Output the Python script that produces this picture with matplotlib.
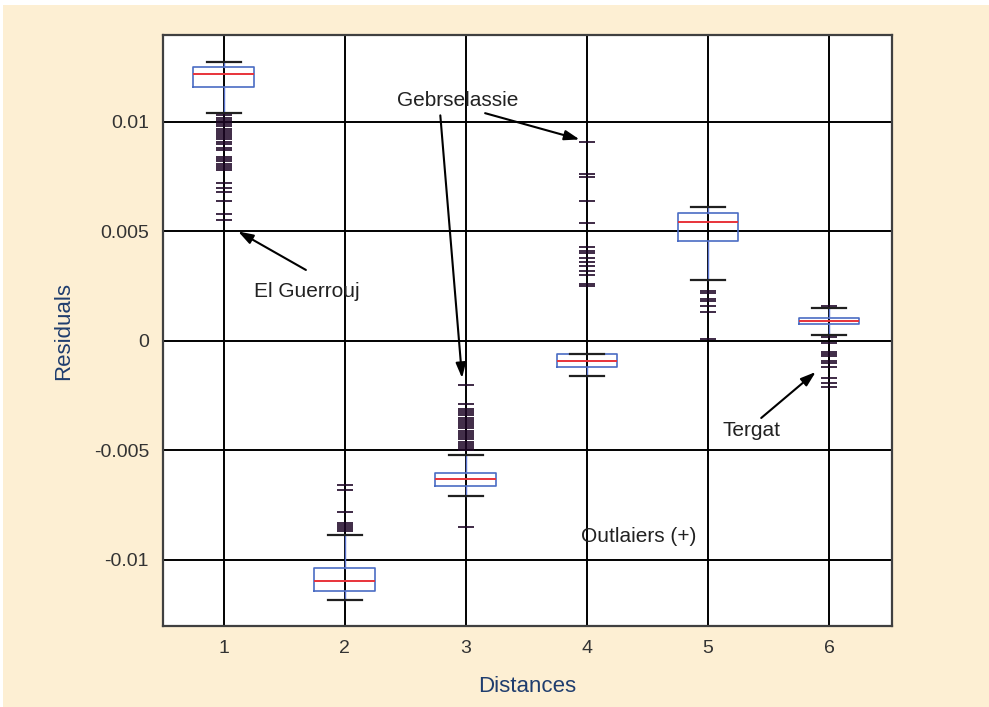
import matplotlib
matplotlib.use("Agg")
import matplotlib.pyplot as plt
from matplotlib.patches import Rectangle

# box statistics (one entry per distance)
distances = [1, 2, 3, 4, 5, 6]
medians = [0.0122, -0.01096, -0.0063, -0.00091, 0.00543, 0.00091]
q1 = [0.0116, -0.01142, -0.00662, -0.00119, 0.00457, 0.00078]
q3 = [0.01251, -0.01037, -0.00603, -0.00059, 0.00584, 0.00105]
whis_lo = [0.0104, -0.01183, -0.00708, -0.0016, 0.00279, 0.00027]
whis_hi = [0.01274, -0.00886, -0.0052, -0.00059, 0.00612, 0.0015]

out1 = [0.0103, 0.0102, 0.0101, 0.0100, 0.0099, 0.0098, 0.0097, 0.0096, 0.0095,
        0.0094, 0.0093, 0.0092, 0.0091, 0.0090, 0.0088, 0.0087, 0.0084, 0.0083,
        0.0082, 0.0081, 0.0080, 0.0079, 0.0078, 0.0072, 0.0070, 0.0068, 0.0064,
        0.0058, 0.0055]
out2 = [-0.0066, -0.0068, -0.0078, -0.0083, -0.0084, -0.0085, -0.0086, -0.0087]
out3 = [-0.0020, -0.0029, -0.0031, -0.0032, -0.0033, -0.0034, -0.0035, -0.0036,
        -0.0037, -0.0038, -0.0039, -0.0040, -0.0041, -0.0042, -0.0043, -0.0044,
        -0.0045, -0.0046, -0.0047, -0.0048, -0.0049, -0.0050, -0.0085]
out4 = [0.0025, 0.0026, 0.0030, 0.0032, 0.0034, 0.0036, 0.0038, 0.0040, 0.0041,
        0.0043, 0.0054, 0.0064, 0.0075, 0.0076, 0.0091]
out5 = [0.0023, 0.0022, 0.0019, 0.0018, 0.0016, 0.0013, 0.0001]
out6 = [0.0016, 0.0002, -0.0001, -0.0005, -0.0006, -0.0007, -0.0009, -0.0010,
        -0.0012, -0.0017, -0.0019, -0.0021]
outliers = [out1, out2, out3, out4, out5, out6]

yticks = [-0.01, -0.005, 0, 0.005, 0.01]
ytick_labels = ['-0.01', '-0.005', '0', '0.005', '0.01']

BEIGE = '#fdefd3'
NAVY = '#1f3d6e'

fig = plt.figure(figsize=(9.89, 7.07), dpi=100, facecolor='white')
fig.patches.append(Rectangle((3 / 989, 0), 1, 1 - 5 / 707, transform=fig.transFigure,
                             facecolor=BEIGE, edgecolor='none', zorder=-10))
ax = fig.add_axes([163 / 989, 1 - 626 / 707, (892 - 163) / 989, (626 - 35) / 707])
ax.set_facecolor('white')

stats = []
for i in range(len(distances)):
    stats.append(dict(med=medians[i], q1=q1[i], q3=q3[i],
                      whislo=whis_lo[i], whishi=whis_hi[i], fliers=outliers[i]))

ax.bxp(stats, positions=distances, widths=0.5, showfliers=True,
       boxprops=dict(color='#4a6cc4', linewidth=1.2),
       medianprops=dict(color='#e8333a', linewidth=1.4),
       whiskerprops=dict(color='#5a74d0', linewidth=1.0),
       capprops=dict(color='#202020', linewidth=1.6),
       capwidths=0.28,
       flierprops=dict(marker='_', markersize=11, markeredgewidth=1.2,
                       markeredgecolor='#1e0626', linestyle='none'))

ax.set_xlim(0.5, 6.52)
ax.set_ylim(-0.01302, 0.01397)
ax.set_xticks(distances)
ax.set_xticklabels([str(d) for d in distances])
ax.set_yticks(yticks)
ax.set_yticklabels(ytick_labels)
ax.grid(True, color='black', linewidth=1.4)
ax.set_axisbelow(True)
ax.tick_params(length=0, labelsize=14, labelcolor='#333333', pad=10)
for lab in ax.get_xticklabels() + ax.get_yticklabels():
    lab.set_family('Liberation Sans')
for s in ax.spines.values():
    s.set_color('#404040')
    s.set_linewidth(1.6)

ax.set_xlabel('Distances', family='Liberation Sans', fontsize=16, color=NAVY,
              labelpad=14)
ax.set_ylabel('Residuals', family='Liberation Sans', fontsize=16, color=NAVY,
              labelpad=14)

arrow = dict(arrowstyle='-|>,head_length=0.9,head_width=0.3', color='black',
             linewidth=1.5, shrinkA=0, shrinkB=0)
txt = dict(family='Liberation Sans', fontsize=15, color='#222222',
           ha='center', va='center')

ax.text(2.93, 0.0110, 'Gebrselassie', **txt)
ax.annotate('', xy=(3.94, 0.0092), xytext=(3.16, 0.0104), arrowprops=arrow)
ax.annotate('', xy=(2.97, -0.0017), xytext=(2.79, 0.0103), arrowprops=arrow)
ax.text(1.69, 0.00224, 'El Guerrouj', **txt)
ax.annotate('', xy=(1.12, 0.0050), xytext=(1.68, 0.00324), arrowprops=arrow)
ax.text(5.36, -0.0041, 'Tergat', **txt)
ax.annotate('', xy=(5.89, -0.00142), xytext=(5.44, -0.00352), arrowprops=arrow)
ax.text(4.43, -0.00895, 'Outlaiers (+)', **txt)

fig.savefig('out.png', dpi=100, facecolor=fig.get_facecolor())
